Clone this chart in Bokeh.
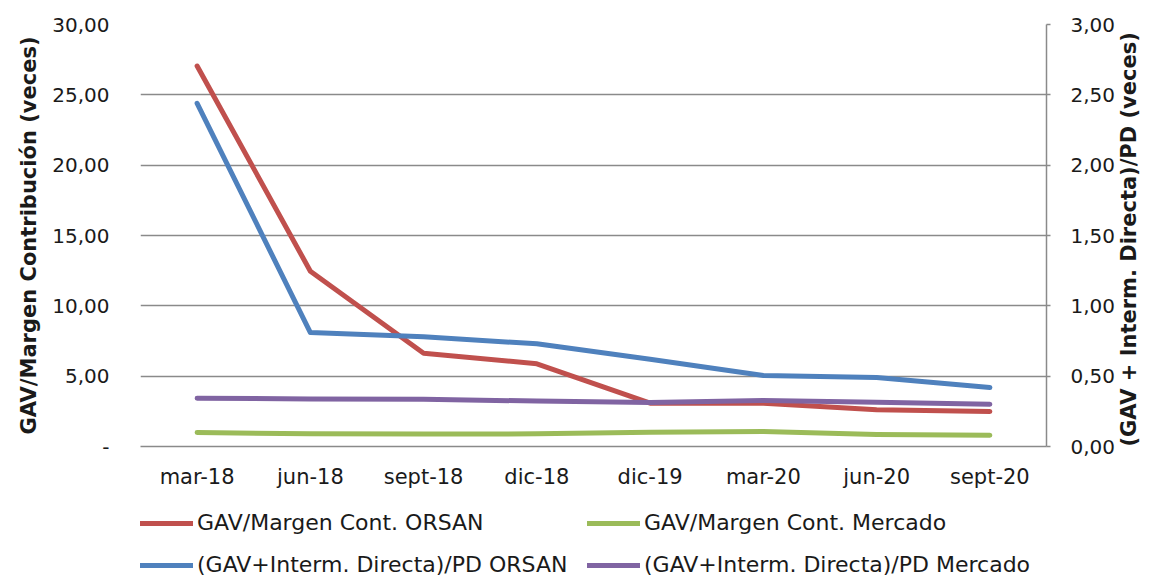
import math
from bokeh.plotting import figure
from bokeh.layouts import column
from bokeh.models import Range1d, LinearAxis, FixedTicker, Legend, LegendItem, FactorRange
from bokeh.embed import file_html
from bokeh.resources import INLINE

categories = ["mar-18", "jun-18", "sept-18", "dic-18", "dic-19", "mar-20", "jun-20", "sept-20"]
gav_margen_orsan = [27.05, 12.46, 6.63, 5.88, 3.08, 3.08, 2.61, 2.49]
gav_margen_mercado = [1.00, 0.90, 0.88, 0.90, 1.02, 1.07, 0.85, 0.80]
gav_pd_orsan = [2.44, 0.81, 0.78, 0.73, 0.62, 0.505, 0.49, 0.42]
gav_pd_mercado = [0.343, 0.338, 0.336, 0.323, 0.313, 0.327, 0.315, 0.30]

series_names = [
    "GAV/Margen Cont. ORSAN",
    "GAV/Margen Cont. Mercado",
    "(GAV+Interm. Directa)/PD ORSAN",
    "(GAV+Interm. Directa)/PD Mercado",
]
series_colors = ["#C0504D", "#9BBB59", "#4F81BD", "#8064A2"]

left_ticks = [0, 5, 10, 15, 20, 25, 30]
left_tick_labels = ["-", "5,00", "10,00", "15,00", "20,00", "25,00", "30,00"]
right_ticks = [0, 0.5, 1, 1.5, 2, 2.5, 3]
right_tick_labels = ["0,00", "0,50", "1,00", "1,50", "2,00", "2,50", "3,00"]

left_title = "GAV/Margen Contribución (veces)"
right_title = "(GAV + Interm. Directa)/PD (veces)"

FONT = "DejaVu Sans"
TXT = "#1a1a1a"
GRID = "#8a8a8a"

p = figure(
    x_range=FactorRange(factors=categories),
    y_range=Range1d(0, 30),
    frame_width=906, frame_height=422,
    min_border_left=140, min_border_right=96, min_border_top=24, min_border_bottom=49,
    output_backend="svg", toolbar_location=None,
)
p.outline_line_color = None
p.background_fill_color = "white"
p.extra_y_ranges = {"right": Range1d(0, 3)}

# grid
p.xgrid.visible = False
p.ygrid.ticker = FixedTicker(ticks=left_ticks)
p.ygrid.grid_line_color = GRID
p.ygrid.grid_line_width = 1.5

# left axis
ya = p.yaxis[0]
ya.ticker = FixedTicker(ticks=left_ticks)
ya.major_label_overrides = {t: l for t, l in zip(left_ticks, left_tick_labels)}
ya.axis_line_color = None
ya.major_tick_line_color = None
ya.minor_tick_line_color = None
ya.major_label_standoff = 25
ya.major_label_text_font = FONT
ya.major_label_text_font_size = "20px"
ya.major_label_text_color = TXT
ya.axis_label = left_title
ya.axis_label_text_font = FONT
ya.axis_label_text_font_size = "21px"
ya.axis_label_text_font_style = "bold"
ya.axis_label_text_color = TXT
ya.axis_label_standoff = 8

# right axis
ra = LinearAxis(y_range_name="right", ticker=FixedTicker(ticks=right_ticks))
ra.major_label_overrides = {t: l for t, l in zip(right_ticks, right_tick_labels)}
ra.axis_line_color = GRID
ra.axis_line_width = 1.5
ra.major_tick_line_color = GRID
ra.major_tick_line_width = 1.5
ra.major_tick_in = 0
ra.major_tick_out = 4
ra.minor_tick_line_color = None
ra.major_label_standoff = 20
ra.major_label_text_font = FONT
ra.major_label_text_font_size = "20px"
ra.major_label_text_color = TXT
ra.axis_label = right_title
ra.axis_label_text_font = FONT
ra.axis_label_text_font_size = "21px"
ra.axis_label_text_font_style = "bold"
ra.axis_label_text_color = TXT
ra.axis_label_standoff = 11
ra.axis_label_orientation = math.pi / 2
if "axis_label_align" in LinearAxis.properties():
    ra.axis_label_align = "start"
p.add_layout(ra, "right")

# x axis
xa = p.xaxis[0]
xa.axis_line_color = GRID
xa.axis_line_width = 1.5
xa.major_tick_line_color = None
xa.minor_tick_line_color = None
xa.major_label_standoff = 12
xa.major_label_text_font = FONT
xa.major_label_text_font_size = "21px"
xa.major_label_text_color = TXT

values = [gav_margen_orsan, gav_margen_mercado, gav_pd_orsan, gav_pd_mercado]
ranges = ["default", "default", "right", "right"]
for vals, col, rng in zip(values, series_colors, ranges):
    p.line(x=categories, y=vals, line_color=col, line_width=5,
           line_cap="round", line_join="round", y_range_name=rng)

# legend strip below the chart (2 x 2); its frame lines up with the chart frame
lf = figure(
    width=1140, height=82, x_range=Range1d(0, 1), y_range=Range1d(0, 1),
    x_axis_location=None, y_axis_location=None,
    min_border_left=0, min_border_right=0, min_border_top=0, min_border_bottom=0,
    output_backend="svg", toolbar_location=None,
)
lf.outline_line_color = None
lf.xgrid.visible = False
lf.ygrid.visible = False
legend_renderers = []
for col in series_colors:
    # swatch-only renderers, placed outside the visible range
    legend_renderers.append(lf.line(x=[5, 6], y=[5, 6], line_color=col, line_width=5,
                                    line_cap="round"))
legend = Legend(
    items=[LegendItem(label=n, renderers=[r]) for n, r in zip(series_names, legend_renderers)],
    location=(0, 0), orientation="horizontal", ncols=2,
    padding=0, margin=0, spacing=17,
    border_line_color=None, background_fill_alpha=0,
    glyph_width=53, glyph_height=24, label_standoff=4,
    label_text_font=FONT, label_text_font_size="22px",
    label_text_color=TXT, label_height=24, label_width=373,
)
lf.add_layout(legend, "center")

layout = column(p, lf, spacing=0)
open("out.html", "w").write(file_html(layout, INLINE))
